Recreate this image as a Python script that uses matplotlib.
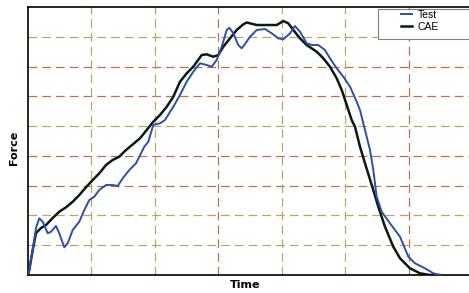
import numpy as np
import matplotlib
matplotlib.use('Agg')
from matplotlib import pyplot as plt
from matplotlib.patches import Rectangle

# CAE curve (time, force)
cae_t = [0, 0.020, 0.074, 0.126, 0.205, 0.284, 0.389, 0.493, 0.599, 0.705, 0.809,
         0.914, 1.020, 1.124, 1.230, 1.335, 1.439, 1.545, 1.766, 1.871, 1.975,
         2.081, 2.187, 2.291, 2.396, 2.502, 2.606, 2.739, 2.817, 2.921, 3.000,
         3.079, 3.185, 3.290, 3.394, 3.448, 3.606, 3.763, 3.921, 4.025, 4.104,
         4.183, 4.288, 4.394, 4.552, 4.656, 4.761, 4.867, 4.946, 5.025, 5.103,
         5.155, 5.234, 5.313, 5.419, 5.523, 5.628, 5.759, 5.865, 6.022, 6.180,
         6.338, 6.495]
cae_f = [0, 0.168, 0.839, 1.410, 1.578, 1.679, 1.914, 2.126, 2.273, 2.461, 2.686,
         2.945, 3.190, 3.415, 3.694, 3.862, 3.972, 4.197, 4.590, 4.869, 5.148,
         5.373, 5.651, 5.987, 6.491, 6.773, 6.995, 7.388, 7.411, 7.330, 7.388,
         7.666, 7.948, 8.227, 8.418, 8.479, 8.395, 8.395, 8.395, 8.529, 8.452,
         8.227, 7.948, 7.723, 7.498, 7.277, 6.995, 6.605, 6.212, 5.709, 5.205,
         4.980, 4.308, 3.751, 3.022, 2.293, 1.622, 0.950, 0.561, 0.225, 0.057,
         0, 0]

# Test curve
test_t = [0, 0.020, 0.074, 0.126, 0.178, 0.232, 0.311, 0.363, 0.441, 0.493, 0.572,
          0.626, 0.705, 0.809, 0.888, 0.966, 1.045, 1.124, 1.230, 1.335, 1.414,
          1.493, 1.597, 1.703, 1.782, 1.834, 1.897, 1.975, 2.081, 2.160, 2.291,
          2.396, 2.502, 2.606, 2.712, 2.817, 2.896, 2.975, 3.054, 3.133, 3.174,
          3.237, 3.315, 3.369, 3.421, 3.500, 3.606, 3.736, 3.842, 3.946, 4.025,
          4.131, 4.209, 4.288, 4.394, 4.473, 4.577, 4.682, 4.761, 4.867, 4.971,
          5.077, 5.182, 5.234, 5.313, 5.392, 5.444, 5.497, 5.576, 5.707, 5.865,
          5.996, 6.101, 6.259, 6.390, 6.495]
test_f = [0, 0.168, 0.839, 1.578, 1.904, 1.790, 1.400, 1.454, 1.645, 1.400, 0.930,
          1.064, 1.511, 1.790, 2.183, 2.518, 2.629, 2.854, 3.022, 3.022, 2.989,
          3.247, 3.526, 3.751, 4.087, 4.308, 4.476, 5.037, 5.094, 5.205, 5.651,
          6.044, 6.491, 6.827, 7.109, 7.052, 6.995, 7.220, 7.666, 8.227, 8.304,
          8.116, 7.723, 7.613, 7.757, 8.002, 8.227, 8.261, 8.116, 7.948, 7.915,
          8.116, 8.361, 8.170, 7.780, 7.723, 7.723, 7.555, 7.277, 6.941, 6.659,
          6.323, 5.819, 5.541, 4.869, 4.197, 3.526, 2.629, 2.126, 1.736, 1.286,
          0.615, 0.393, 0.225, 0.057, 0]

olive = '#b8a860'
red = '#c07050'
hgrid = {1: olive, 2: olive, 3: red, 4: red, 5: olive, 6: red, 7: red, 8: olive}
vgrid = {1: olive, 2: olive, 3: red, 4: olive, 5: olive, 6: red}

fig = plt.figure(figsize=(4.69, 2.93), dpi=100)
ax = fig.add_axes([28/469, 18/293, 444/469, 268/293])

for y, c in hgrid.items():
    ax.axhline(y, color=c, lw=0.9, dashes=(7, 4), zorder=1)
for x, c in vgrid.items():
    ax.axvline(x, color=c, lw=0.9, dashes=(7, 4), zorder=1)

ax.plot(test_t, test_f, color='#2b50a8', lw=1.4, label='Test', zorder=3)
ax.plot(cae_t, cae_f, color='#0b1a12', lw=1.8, label='CAE', zorder=2)

ax.set_xlim(0, 7)
ax.set_ylim(0, 9)
ax.set_xticks([])
ax.set_yticks([])
ax.spines['right'].set_visible(False)
for s in ['left', 'top', 'bottom']:
    ax.spines[s].set_linewidth(1.2)

fig.text(14/469, 1 - 148/293, 'Force', rotation=90, ha='center', va='center',
         fontsize=8, fontweight='bold', family='DejaVu Sans')
fig.text(245/469, 1 - 285/293, 'Time', ha='center', va='center',
         fontsize=8, fontweight='bold', family='DejaVu Sans')

# legend box
fig.patches.append(Rectangle((378/469, 1 - 39/293), 100/469, 30/293,
                             transform=fig.transFigure, facecolor='white',
                             edgecolor='#808080', lw=0.8, zorder=5))
leg = fig.legend(loc='upper left', bbox_to_anchor=(401/469, 1 - 10/293),
                 prop={'family': 'Liberation Sans', 'size': 7.5},
                 handlelength=1.1, handletextpad=0.5, borderpad=0,
                 borderaxespad=0, labelspacing=0.2, frameon=False)
leg.set_zorder(6)

fig.savefig('out.png', dpi=100)
